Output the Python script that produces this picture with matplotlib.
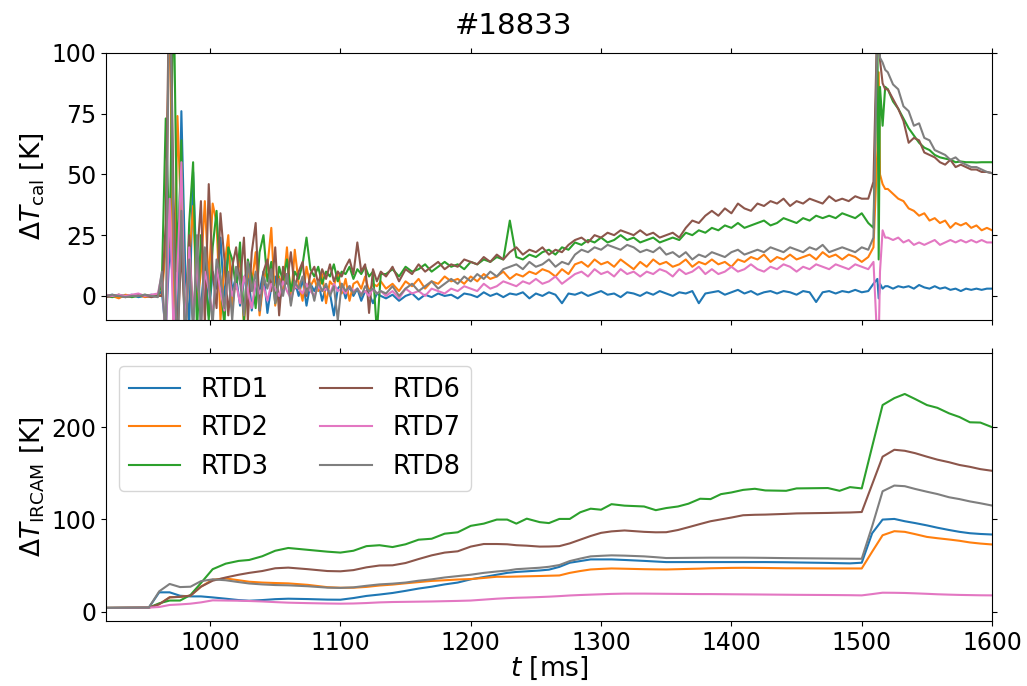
import numpy as np
import matplotlib.pyplot as plt

# sample times of the calorimetry signals [ms]
t_cal = np.concatenate([
    np.arange(920, 961, 5),
    np.arange(963, 1132, 3),
    np.arange(1135, 1506, 5),
    [1509, 1512, 1513, 1514, 1516, 1518],
    np.arange(1520, 1601, 4),
])

rtd1_cal = [
    0, 0.5, -0.5, 0, 0.5, -0.5, 0, 0.5, 0,
    2, -15, 20, 5, -20, 76, 10, -12, 51, 5,
    -5, 15, -8, 10, 3, 24, -3, 21, 2, 8,
    -4, 6, 12, -6, 5, 2, 10, -7, 4, 8,
    -3, 5, 9, -2, 6, 0, 7, -4, 5, 2,
    6, -2, 4, 1, -8, 3, 5, -1, 4, 0,
    3, -2, 2, 1, -3, 1, 0,
    -1, 0.5, -2, 0, 1, -1.5, 0.5, -0.5, 1, 0,
    0.5, -1, 1, 0.5, -0.5, 1.5, 0, 1, -0.5, 1,
    0.5, 1.5, -1, 1, 0, 1.5, 0.5, -3, 1, 0.5,
    1.5, 0, 1, 2, 0.5, 1, -0.5, 1.5, 1, 0,
    1.5, 0.5, 2, 1, 0, 1.5, 1, 2, -3, 1,
    1.5, 2, 0.5, 1.5, 2.5, 1, 2, 0.5, 1.5, 2,
    1, 2, 1.5, 0.5, 2, 1.5, -2.5, 1.5, 2, 1,
    2, 1.5, 2.5, 1.5, 2,
    5, 7, -1, 5, 3, 4,
    4, 3, 4, 3.5, 4, 3, 4.5, 3.5, 3, 4,
    3, 3.5, 2.5, 3, 2, 3, 2.5, 3, 2.5, 3,
    3,
]

rtd2_cal = [
    0.5, 0, -1, 0.5, 0, 0.5, -0.5, 0, 0.5,
    0, 20, 130, -20, 74, 30, -15, 15, 37, -5,
    10, 39, 5, 38, 30, -10, 12, 25, -5, 8,
    15, -12, 10, 5, 18, -8, 6, 12, 28, -4,
    8, 3, 20, -3, 19, 5, -2, 12, 4, 7,
    2, 9, -3, 6, 4, 10, 1, 7, -2, 5,
    6, 3, 8, 2, 5, 4, 6,
    3, 5, 2, 6, 4, 7, 3, 6, 5, 8,
    6, 7, 5, 8, 6, 9, 7, 8, 10, 7,
    9, 8, 10, 9, 11, 10, 8, 11, 9, 13,
    14, 12, 15, 13, 14, 12, 15, 13, 11, 14,
    12, 15, 13, 14, 12, 13, 15, 12, 14, 13,
    15, 13, 14, 12, 15, 14, 16, 15, 17, 14,
    16, 15, 17, 15, 16, 17, 15, 18, 16, 17,
    15, 17, 16, 14, 16,
    20, 60, 92, 50, 46, 44,
    44, 42, 40, 39, 36, 35, 33, 34, 31, 32,
    30, 31, 28, 30, 29, 30, 28, 29, 27, 28,
    27,
]

rtd3_cal = [
    0, -0.5, 0.5, 0, -0.5, 0, 0.5, 0, 0,
    5, 73, 20, 130, 10, 64, -20, 30, 55, -15,
    25, 10, -10, 20, 35, 5, -12, 20, 15, 3,
    22, -10, 15, 8, -5, 18, 25, 6, 14, -3,
    12, 6, 15, 2, 10, 7, 13, 24, 11, 8,
    12, 5, 10, 8, 13, 6, 10, 9, 12, 7,
    11, 9, 12, 8, 10, -15, 9,
    9, 11, 8, 12, 10, 11, 13, 10, 12, 14,
    12, 13, 11, 14, 13, 15, 14, 16, 15, 31,
    16, 15, 17, 16, 18, 19, 17, 20, 19, 22,
    21, 23, 22, 24, 22, 23, 25, 23, 24, 22,
    23, 24, 22, 23, 24, 23, 26, 25, 27, 26,
    28, 27, 29, 28, 30, 28, 29, 30, 31, 29,
    30, 32, 31, 30, 32, 31, 33, 32, 33, 32,
    34, 33, 32, 34, 30,
    28, 110, 15, 86, 70, 86,
    85, 80, 77, 73, 69, 66, 63, 61, 60, 58,
    57, 56.5, 56, 55, 55.3, 55, 55, 54.9, 55, 55,
    55,
]

rtd6_cal = [
    -0.5, 0, 0.5, -0.5, 0, 0.5, 0, -0.5, 0,
    0, 30, 140, 40, -20, 20, -15, 25, -10, 15,
    39, -12, 46, 10, -5, 34, 15, -8, 12, 20,
    5, 24, -10, 18, 30, -6, 10, 15, 2, 20,
    -8, 12, 5, 18, 3, 10, 14, 0, 9, 12,
    5, 11, 7, 13, 6, 10, 8, 12, 15, 9,
    22, 10, 13, -7, 11, 6, 10,
    8, 12, 6, 11, 9, 13, 10, 12, 14, 11,
    13, 12, 15, 14, 13, 16, 14, 17, 15, 18,
    20, 17, 19, 18, 20, 17, 19, 18, 21, 23,
    24, 22, 25, 24, 26, 25, 27, 26, 25, 27,
    25, 26, 24, 25, 26, 24, 28, 31, 30, 33,
    35, 33, 36, 34, 38, 36, 35, 38, 37, 39,
    38, 40, 37, 39, 38, 40, 39, 38, 41, 39,
    40, 39, 41, 40, 40,
    47, 115, 105, 97, 87.5, 85,
    85, 81, 77, 72, 63, 65, 64, 59, 58, 57,
    55, 54, 56, 53, 54, 53, 52, 52, 51, 51,
    50.5,
]

rtd7_cal = [
    0.5, 0, 0.5, 0, 0.5, 1, 0, 0.5, 1,
    9, -20, 40, -15, 10, 55, -18, 20, -10, 15,
    -12, 10, 3, -8, 12, 2, -6, 9, 0, 5,
    -3, 8, 2, -5, 6, 1, 4, -2, 5, 3,
    0, 6, 2, -1, 4, 3, 1, 5, 2, 0,
    4, 2, 3, 1, 5, 2, 3, 1, 4, 2,
    3, 1, 2, 0, 3, 1, 2,
    0, 2, -1, 3, 1, 2, 0, 3, 2, 1,
    3, 2, 4, 3, 2, 5, 3, 4, 6, 5,
    4, 6, 5, 7, 5, 6, 8, 5, 7, 9,
    10, 8, 11, 9, 10, 8, 11, 9, 10, 8,
    10, 9, 11, 10, 8, 11, 9, 10, 12, 9,
    11, 9, 10, 12, 10, 11, 13, 11, 10, 12,
    11, 13, 12, 10, 12, 11, 13, 12, 11, 13,
    12, 11, 13, 12, 11,
    14, -20, -20, 10, 27, 24,
    24, 23, 24, 22, 23, 21, 22, 21, 22, 23,
    21, 22, 23, 22, 23, 22, 23, 22, 23, 22,
    22,
]

rtd8_cal = [
    0, 0.5, 0, -0.5, 0, 0, 0.5, 0, -0.5,
    10, -20, 150, 20, -25, 35, -20, 15, -15, 25,
    -15, 20, 5, -12, 15, 8, -5, 10, -10, 12,
    6, -8, 14, 2, 10, -6, 8, 3, 11, -3,
    7, 0, 9, -4, 6, 3, 8, 1, 5, -2,
    6, 2, 5, 0, 4, -10, 5, 2, 4, 1,
    3, 0, 4, 2, 3, 1, 2,
    1, 4, 0, 3, 5, 2, 4, 6, 3, 5,
    7, 5, 8, 6, 9, 7, 10, 8, 11, 12,
    13, 11, 14, 12, 13, 15, 12, 14, 13, 17,
    19, 18, 20, 19, 21, 20, 19, 21, 20, 18,
    19, 18, 20, 17, 18, 16, 18, 15, 17, 16,
    18, 17, 16, 18, 19, 17, 18, 19, 18, 20,
    19, 18, 20, 19, 18, 20, 19, 21, 18, 19,
    20, 19, 18, 20, 19,
    24, 110, 120, 98, 96, 93,
    92, 87, 85, 78, 76, 70, 71, 65, 64, 60,
    59, 58, 56, 57, 55, 54, 53, 53, 52, 51,
    50.5,
]

# IR camera evaluation at the RTD positions
t_ircam = [
    920, 953, 961, 969, 977, 985, 993, 1002, 1012, 1022,
    1030, 1040, 1050, 1060, 1075, 1090, 1100, 1110, 1120, 1130,
    1140, 1150, 1160, 1170, 1180, 1190, 1200, 1210, 1220, 1228,
    1235, 1243, 1253, 1260, 1268, 1276, 1284, 1292, 1300, 1308,
    1318, 1333, 1342, 1350, 1359, 1367, 1376, 1384, 1392, 1400,
    1409, 1418, 1426, 1442, 1450, 1474, 1483, 1491, 1500, 1508,
    1516, 1525, 1533, 1541, 1550, 1558, 1567, 1575, 1583, 1591,
    1600,
]

rtd1_ir = [
    4, 4.3, 20.9, 20.9, 17.2, 16.5, 16.5, 15.4, 14, 12.5,
    11.8, 12.5, 13.5, 14, 13.6, 13, 12.9, 14.7, 17, 18.5,
    20.2, 22.5, 25, 27, 29.5, 31.5, 35, 37.5, 40, 42,
    43, 43.7, 44.6, 45.5, 48.5, 53, 54.8, 56.6, 56.6, 56.6,
    56, 55, 54.3, 53.7, 53.7, 53.7, 53.7, 53.7, 53.7, 53.7,
    53.7, 53.7, 53.7, 53.5, 53.3, 52.8, 52.5, 52.3, 53, 85,
    99.8, 100.5, 98, 96, 93.5, 91, 88.5, 86.5, 85, 84.2,
    83.6,
]

rtd2_ir = [
    4, 4.3, 8, 15.5, 16, 17.3, 27, 34.6, 36, 34,
    32.4, 31.5, 31, 30.6, 29, 26.5, 25.9, 25.9, 26.8, 28.3,
    29.3, 30.7, 32, 33.3, 34, 34.8, 35.3, 36.5, 37.8, 37.8,
    38, 38.3, 38.6, 38.9, 39.2, 42, 44, 45.7, 46.3, 46.8,
    46.5, 46, 45.8, 45.7, 46, 46.3, 46.6, 47, 47.2, 47.4,
    47.5, 47.4, 47.3, 47, 47, 46.8, 46.8, 46.8, 46.8, 65,
    82.8, 87.2, 86.5, 84, 81, 79.6, 78.2, 76.8, 75, 73.8,
    72.8,
]

rtd3_ir = [
    4, 4.3, 9, 12, 12, 18, 31, 46, 52, 55,
    56, 60, 66, 69, 67, 65, 64, 66, 71, 72,
    70, 73, 78, 79, 84.5, 86, 93, 95.4, 99.8, 99.8,
    95.4, 100.8, 97, 96, 100.5, 100.5, 107.7, 111.6, 110.5, 116.5,
    114.9, 114, 110, 112.3, 114, 117, 122.4, 122, 127.4, 129.2,
    132, 133.2, 131.4, 131, 133.6, 134, 131, 135, 133.6, 179,
    224, 231.5, 236, 230.5, 224, 221, 215, 211, 205.3, 205,
    200,
]

rtd6_ir = [
    4, 4.3, 8, 15.5, 16, 17.3, 27, 33.5, 37, 40,
    42, 44, 47, 47.7, 46, 44, 43.7, 45, 48, 50,
    50.2, 52.7, 57, 61, 64, 65.4, 70.5, 73.3, 73.3, 73,
    72, 71.5, 70.5, 70.6, 71, 74, 78, 82, 85.4, 87,
    88, 86.5, 86, 86.1, 88.5, 91.5, 95, 98, 100, 102,
    104.5, 105, 105.2, 106, 106.5, 107, 107.3, 107.5, 108, 138,
    168, 175.5, 174.4, 171.8, 168, 164.8, 162, 159, 157, 154.5,
    152.7,
]

rtd7_ir = [
    4, 4.3, 5, 7.2, 7.8, 8.6, 10, 12.2, 12, 11.8,
    11.5, 11, 10.3, 9.7, 9.2, 8.8, 8.6, 8.8, 9.3, 10,
    10.4, 10.6, 10.8, 11, 11.3, 11.6, 12, 13, 14, 14.6,
    15, 15.3, 15.8, 16.2, 16.8, 17.5, 18, 18.4, 18.8, 19.2,
    19.5, 19.5, 19.4, 19.3, 19.2, 19.1, 19, 19, 18.9, 18.8,
    18.7, 18.6, 18.5, 18.3, 18.2, 18, 17.9, 17.8, 17.6, 19,
    20.5, 20.4, 20.2, 19.8, 19.3, 18.8, 18.4, 18.1, 17.9, 17.7,
    17.6,
]

rtd8_ir = [
    4, 4.3, 22, 30, 26.6, 27, 33, 35, 34, 32,
    30.5, 29.5, 28.8, 28.5, 27.5, 26, 25.7, 26.3, 28, 29.5,
    30.3, 31.5, 33.5, 35, 37, 38.5, 40, 42, 43.5, 44.5,
    46, 46.7, 47.6, 48.6, 50.5, 54.8, 57.5, 59.9, 60.5, 61,
    60.7, 59.9, 59, 58.1, 58.2, 58.3, 58.4, 58.5, 58.5, 58.5,
    58.5, 58.4, 58.3, 58, 57.9, 57.6, 57.5, 57.4, 57.3, 92.6,
    130.5, 136.7, 136, 133, 130, 127.5, 124, 122, 119.5, 117.5,
    115,
]

labels = ["RTD1", "RTD2", "RTD3", "RTD6", "RTD7", "RTD8"]
colors = ["tab:blue", "tab:orange", "tab:green", "tab:brown", "tab:pink", "tab:gray"]
cal = [rtd1_cal, rtd2_cal, rtd3_cal, rtd6_cal, rtd7_cal, rtd8_cal]
ir = [rtd1_ir, rtd2_ir, rtd3_ir, rtd6_ir, rtd7_ir, rtd8_ir]

plt.rcParams["font.size"] = 17

fig, (ax1, ax2) = plt.subplots(2, 1, sharex=True, figsize=(10.27, 6.86), dpi=100)
fig.subplots_adjust(left=0.103, right=0.966, top=0.923, bottom=0.095, hspace=0.124)

for y, c, lab in zip(cal, colors, labels):
    ax1.plot(t_cal, y, color=c, lw=1.5, label=lab)
for y, c, lab in zip(ir, colors, labels):
    ax2.plot(t_ircam, y, color=c, lw=1.5, label=lab)

fig.suptitle("#18833", fontsize=21, y=0.982)

ax1.set_ylim(-10, 100)
ax1.set_yticks([0, 25, 50, 75, 100])
ax1.set_ylabel(r"$\Delta T_\mathrm{cal}$ [K]", fontsize=19)

ax2.set_ylim(-10, 280)
ax2.set_yticks([0, 100, 200])
ax2.set_ylabel(r"$\Delta T_\mathrm{IRCAM}$ [K]", fontsize=19)
ax2.set_xlim(920, 1600)
ax2.set_xlabel(r"$t$ [ms]", fontsize=19, labelpad=0)
ax2.legend(loc="upper left", ncol=2, fontsize=18.5, labelspacing=0.5)

for ax in (ax1, ax2):
    ax.tick_params(top=True, right=True, labelsize=17)

fig.savefig("out.png")
